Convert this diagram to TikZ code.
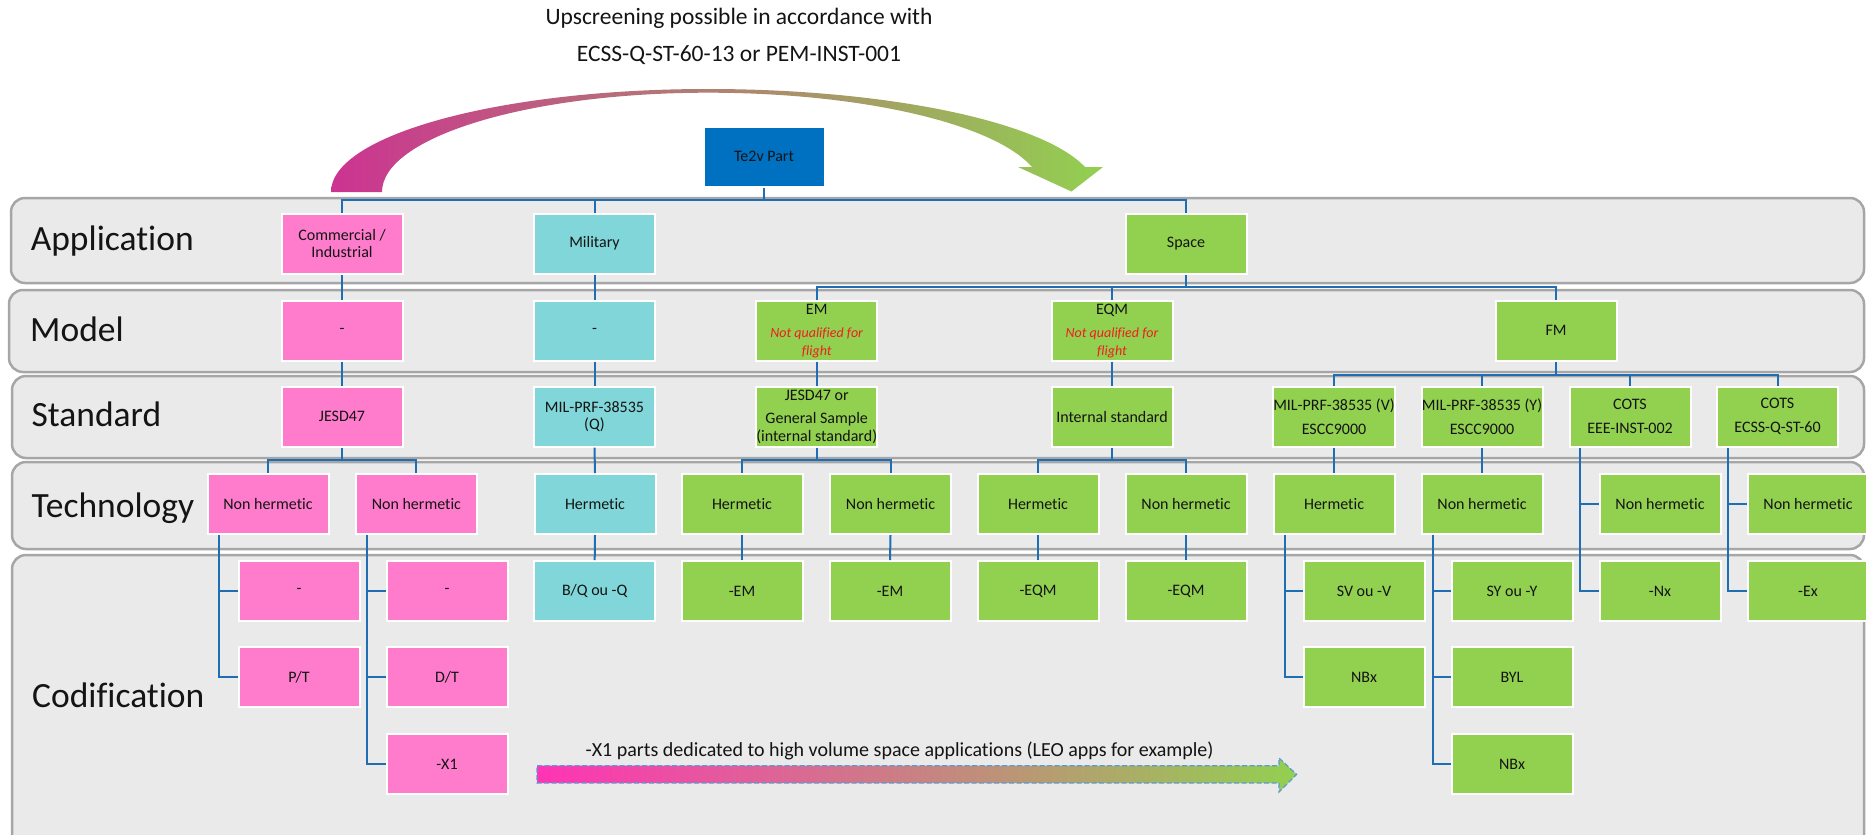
\documentclass[tikz,border=0pt]{standalone}
\usepackage{fontspec}
\setmainfont{Carlito}[Ligatures=NoCommon]
\usetikzlibrary{calc}
\definecolor{pinkbox}{RGB}{255,124,204}
\definecolor{tealbox}{RGB}{128,214,216}
\definecolor{greenbox}{RGB}{146,208,80}
\definecolor{bluebox}{RGB}{0,112,192}
\definecolor{connc}{RGB}{31,110,180}
\definecolor{bandfill}{RGB}{234,234,234}
\definecolor{bandline}{RGB}{166,166,166}
\definecolor{txtc}{RGB}{20,20,20}
\definecolor{nqred}{RGB}{240,30,30}
\definecolor{arcmag}{RGB}{204,51,145}
\definecolor{hotpink}{RGB}{255,51,181}
\definecolor{dashblue}{RGB}{91,155,213}
\newcommand\nqf{\color{nqred}\itshape\fontsize{14}{15.4}\selectfont}
\begin{document}
\begin{tikzpicture}[x=1pt,y=-1pt,
  box/.style={draw=white, line width=2pt, minimum width=121pt, minimum height=60pt,
    inner sep=0pt, align=center, font=\fontsize{16}{17.5}\selectfont, text=txtc},
  pbox/.style={box, fill=pinkbox},
  tbox/.style={box, fill=tealbox},
  gbox/.style={box, fill=greenbox},
  bbox/.style={box, fill=bluebox},
  band/.style={draw=bandline, line width=2.5pt, fill=bandfill, rounded corners=14pt},
  bandlabel/.style={anchor=base west, inner sep=0pt, font=\fontsize{35.5}{40}\selectfont, text=txtc},
  cn/.style={draw=connc, line width=2pt}]
\useasboundingbox (0,0) rectangle (1866,835);
\clip (0,0) rectangle (1866,835);

% bands
\draw[band] (11,198) rectangle (1864,283);
\draw[band] (9,290) rectangle (1864,372);
\draw[band] (12,376) rectangle (1864,458);
\draw[band] (12,462) rectangle (1864,549);
\draw[band] (12,555) rectangle (1864,860);

\node[bandlabel] (lapp) at (30.6,250.7) {Application};
\node[bandlabel] (lmod) at (30,341.7) {Model};
\node[bandlabel] (lstd) at (31.5,426.7) {Standard};
\node[bandlabel] (ltec) at (31.5,517.3) {Technology};
\node[bandlabel] (lcod) at (32,707.7) {Codification};

% curved upscreening arrow
\shade[left color=arcmag, right color=greenbox]
  (331,192) .. controls (331,135.1) and (499.8,89) .. (708,89)
  .. controls (886.2,89) and (1041.7,121.2) .. (1085,167)
  -- (1103,167) -- (1071.5,191.5) -- (1018,167) -- (1032,167)
  .. controls (993.6,123.2) and (860.5,92.7) .. (708,92.7)
  .. controls (528,92.7) and (382,137.2) .. (382,192) -- cycle;
\node[align=center, font=\fontsize{23.5}{37}\selectfont, text=txtc] (upnote) at (739,36.7)
  {Upscreening possible in accordance with\\ECSS-Q-ST-60-13 or PEM-INST-001};

% nodes
\node[bbox] (te2v) at (764,156.5) {Te2v Part};

\node[pbox] (a1) at (342,243.5) {Commercial /\\Industrial};
\node[tbox] (a2) at (594.5,243.5) {Military};
\node[gbox] (a3) at (1186,243.5) {Space};

\node[pbox] (m1) at (342,330.7) {-};
\node[tbox] (m2) at (594.5,330.7) {-};
\node[gbox] (m3) at (816.7,330.7) {EM\\[6pt]\nqf Not qualified for\\\nqf flight};
\node[gbox] (m4) at (1112,330.7) {EQM\\[6pt]\nqf Not qualified for\\\nqf flight};
\node[gbox] (m5) at (1556,330.7) {FM};

\node[pbox] (s1) at (342,416.7) {JESD47};
\node[tbox] (s2) at (594.5,416.7) {MIL-PRF-38535\\(Q)};
\node[gbox] (s3) at (816.7,416.7) {JESD47 or\\[6pt]General Sample\\(internal standard)};
\node[gbox] (s4) at (1112,416.7) {Internal standard};
\node[gbox] (s5) at (1334,416.7) {MIL-PRF-38535 (V)\\[6.5pt]ESCC9000};
\node[gbox] (s6) at (1482,416.7) {MIL-PRF-38535 (Y)\\[6.5pt]ESCC9000};
\node[gbox] (s7) at (1630,416.7) {COTS\\[6.5pt]EEE-INST-002};
\node[gbox] (s8) at (1777.5,416.7) {COTS\\[6.5pt]ECSS-Q-ST-60};

\node[pbox] (t1) at (268,504) {Non hermetic};
\node[pbox] (t2) at (416.4,504) {Non hermetic};
\node[tbox] (t3) at (595,504) {Hermetic};
\node[gbox] (t4) at (742,504) {Hermetic};
\node[gbox] (t5) at (890.5,504) {Non hermetic};
\node[gbox] (t6) at (1038,504) {Hermetic};
\node[gbox] (t7) at (1186,504) {Non hermetic};
\node[gbox] (t8) at (1334,504) {Hermetic};
\node[gbox] (t9) at (1482,504) {Non hermetic};
\node[gbox] (t10) at (1660,504) {Non hermetic};
\node[gbox] (t11) at (1808,504) {Non hermetic};

\node[pbox] (c1) at (299,591) {-};
\node[pbox] (c2) at (447,591) {-};
\node[tbox] (c3) at (594.7,591) {B/Q ou -Q};
\node[gbox] (c4) at (742,591) {-EM};
\node[gbox] (c5) at (890,591) {-EM};
\node[gbox] (c6) at (1038,591) {-EQM};
\node[gbox] (c7) at (1186,591) {-EQM};
\node[gbox] (c8) at (1364,591) {SV ou -V};
\node[gbox] (c9) at (1512,591) {SY ou -Y};
\node[gbox] (c10) at (1660,591) {-Nx};
\node[gbox] (c11) at (1808,591) {-Ex};

\node[pbox] (d1) at (299,677.3) {P/T};
\node[pbox] (d2) at (447,677.3) {D/T};
\node[gbox] (d3) at (1364,677.3) {NBx};
\node[gbox] (d4) at (1512,677.3) {BYL};

\node[pbox] (e1) at (447,764.3) {-X1};
\node[gbox] (e2) at (1512,764.3) {NBx};

% connectors
\coordinate (bus1) at (764,200);
\coordinate (bus2) at (1186,287);
\coordinate (bus3) at (1556,375);
\coordinate (bus4) at (0,460);

\draw[cn] (te2v.south) -- (te2v.south |- bus1);
\draw[cn] (a1.north) -- (a1.north |- bus1) -- (a3.north |- bus1) -- (a3.north);
\draw[cn] (a2.north) -- (a2.north |- bus1);

\draw[cn] (a1.south) -- (m1.north);
\draw[cn] (a2.south) -- (m2.north);
\draw[cn] (a3.south) -- (a3.south |- bus2);
\draw[cn] (m3.north) -- (m3.north |- bus2) -- (m5.north |- bus2) -- (m5.north);
\draw[cn] (m4.north) -- (m4.north |- bus2);

\draw[cn] (m1.south) -- (s1.north);
\draw[cn] (m2.south) -- (s2.north);
\draw[cn] (m3.south) -- (s3.north);
\draw[cn] (m4.south) -- (s4.north);
\draw[cn] (m5.south) -- (m5.south |- bus3);
\draw[cn] (s5.north) -- (s5.north |- bus3) -- (s8.north |- bus3) -- (s8.north);
\draw[cn] (s6.north) -- (s6.north |- bus3);
\draw[cn] (s7.north) -- (s7.north |- bus3);

\draw[cn] (s1.south) -- (s1.south |- bus4);
\draw[cn] (t1.north) -- (t1.north |- bus4) -- (t2.north |- bus4) -- (t2.north);
\draw[cn] (s3.south) -- (s3.south |- bus4);
\draw[cn] (t4.north) -- (t4.north |- bus4) -- (t5.north |- bus4) -- (t5.north);
\draw[cn] (s4.south) -- (s4.south |- bus4);
\draw[cn] (t6.north) -- (t6.north |- bus4) -- (t7.north |- bus4) -- (t7.north);
\draw[cn] (s2.south) -- (t3.north);
\draw[cn] (s5.south) -- (t8.north);
\draw[cn] (s6.south) -- (t9.north);

\coordinate (k7) at ($(s7.south west)+(11.5,0)$);
\draw[cn] (k7) |- (c10.west);
\draw[cn] (k7 |- t10.west) -- (t10.west);
\coordinate (k8) at ($(s8.south west)+(11.5,0)$);
\draw[cn] (k8) |- (c11.west);
\draw[cn] (k8 |- t11.west) -- (t11.west);

\coordinate (k1) at ($(t1.south west)+(12,0)$);
\draw[cn] (k1) |- (d1.west);
\draw[cn] (k1 |- c1.west) -- (c1.west);
\coordinate (k2) at ($(t2.south west)+(12,0)$);
\draw[cn] (k2) |- (e1.west);
\draw[cn] (k2 |- c2.west) -- (c2.west);
\draw[cn] (k2 |- d2.west) -- (d2.west);
\draw[cn] (t3.south) -- (c3.north);
\draw[cn] (t4.south) -- (c4.north);
\draw[cn] (t5.south) -- (c5.north);
\draw[cn] (t6.south) -- (c6.north);
\draw[cn] (t7.south) -- (c7.north);
\coordinate (k8b) at ($(t8.south west)+(12,0)$);
\draw[cn] (k8b) |- (d3.west);
\draw[cn] (k8b |- c8.west) -- (c8.west);
\coordinate (k9) at ($(t9.south west)+(12,0)$);
\draw[cn] (k9) |- (e2.west);
\draw[cn] (k9 |- c9.west) -- (c9.west);
\draw[cn] (k9 |- d4.west) -- (d4.west);

% bottom gradient arrow
\shadedraw[left color=hotpink, right color=greenbox, draw=dashblue, line width=1.2pt,
  dash pattern=on 5pt off 2.5pt]
  (537,765.7) -- (1279,765.7) -- (1279,758) -- (1296.6,774.4) -- (1279,792)
  -- (1279,783) -- (537,783) -- cycle;
\node[anchor=base west, inner sep=0pt, font=\fontsize{20}{24}\selectfont, text=txtc] (lowtext)
  at (585.5,756.7) {-X1 parts dedicated to high volume space applications (LEO apps for example)};
\end{tikzpicture}
\end{document}
